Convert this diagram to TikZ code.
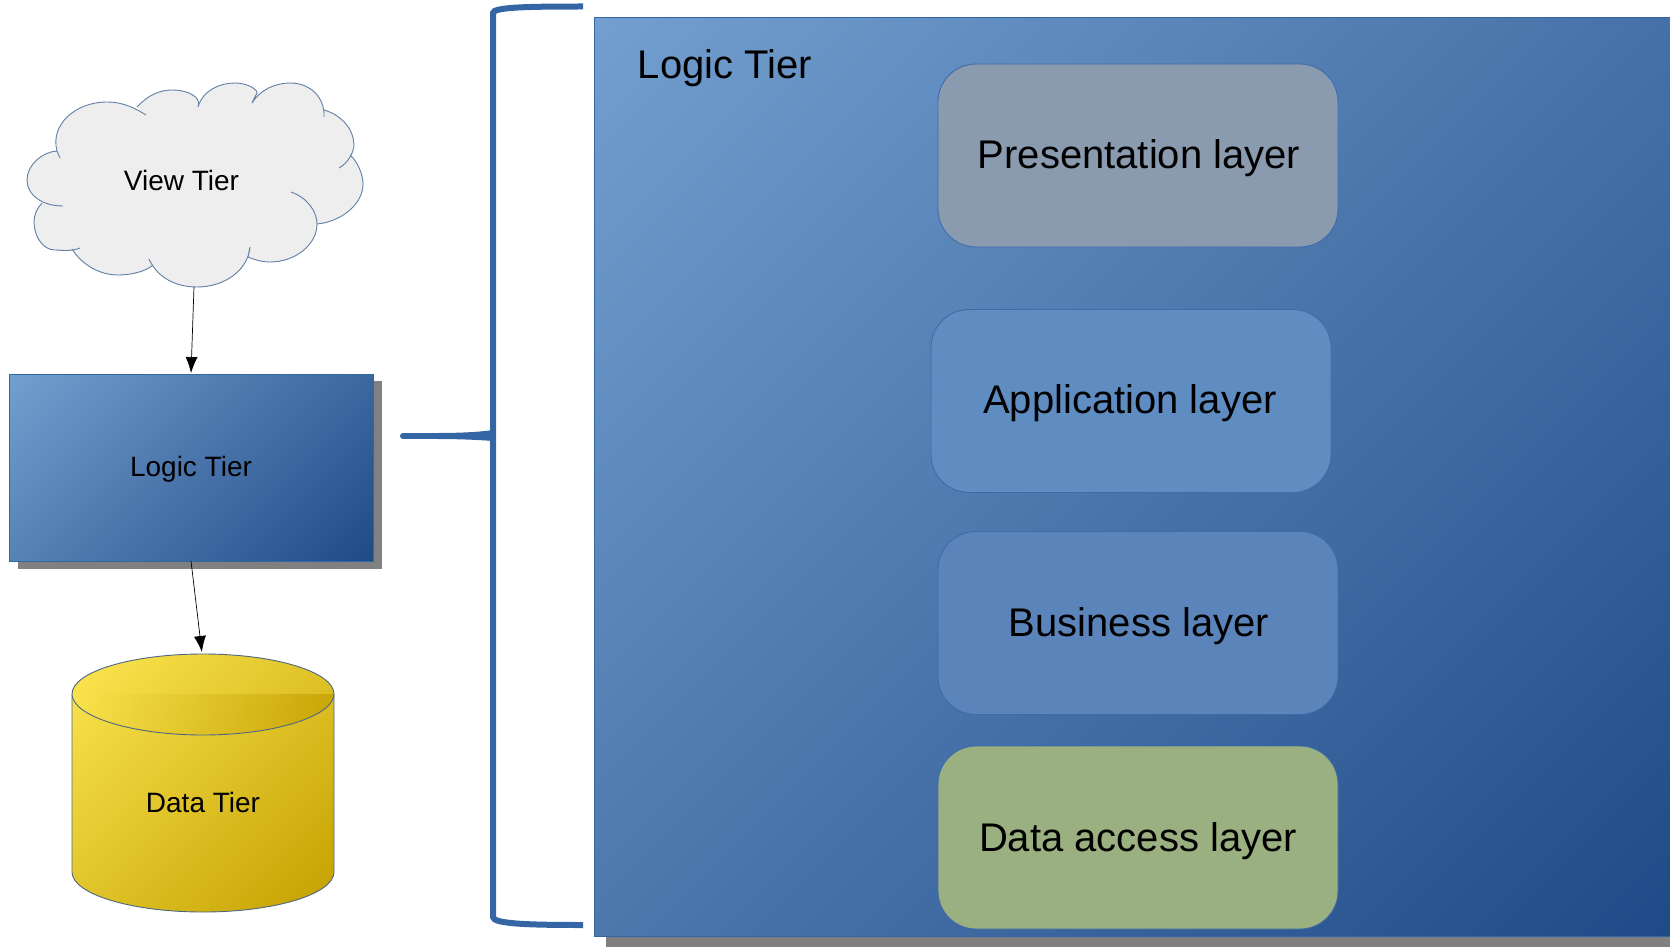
\documentclass[tikz,border=0pt]{standalone}
\usepackage{fontspec}
\setmainfont{Liberation Sans}
\usetikzlibrary{arrows.meta}
\definecolor{gradA}{HTML}{729FCF}
\definecolor{gradB}{HTML}{204A87}
\definecolor{braceblue}{HTML}{3465A4}
\definecolor{shadowgrey}{HTML}{808080}
\definecolor{cloudfill}{HTML}{EEEEEE}
\definecolor{cloudline}{HTML}{5F7FA5}
\definecolor{cylA}{HTML}{FCE651}
\definecolor{cylB}{HTML}{C4A000}
\definecolor{layerline}{HTML}{3F6CA8}
\definecolor{layerGrey}{HTML}{8A9BB0}
\definecolor{layerApp}{HTML}{5F8DC2}
\definecolor{layerBiz}{HTML}{5A84BA}
\definecolor{layerData}{HTML}{9BB080}
\pgfdeclareverticalshading{bluediag}{100bp}{color(0bp)=(gradB); color(14.6bp)=(gradB); color(85.4bp)=(gradA); color(100bp)=(gradA)}
\pgfdeclareverticalshading{cyldiag}{100bp}{color(0bp)=(cylB); color(14.6bp)=(cylB); color(85.4bp)=(cylA); color(100bp)=(cylA)}
\tikzset{
  bluegrad/.style={shading=bluediag,shading angle=45},
  smalltext/.style={font=\fontsize{28}{32}\selectfont,text=black},
  bigtext/.style={font=\fontsize{40}{46}\selectfont,text=black},
  layerbox/.style={rectangle,draw=layerline,line width=0.9pt,rounded corners=38pt,
    minimum width=400pt,minimum height=183pt,inner sep=0pt,outer sep=0pt},
  tierbox/.style={rectangle,draw=braceblue,line width=0.8pt,inner sep=0pt,outer sep=0pt},
  conn/.style={draw=black,line width=0.7pt,-{Latex[length=16pt,width=12pt]},shorten >=1pt},
  bracket/.style={draw=braceblue,line width=6pt},
  cloudlobe/.style={draw=cloudline,line width=0.9pt},
  cylline/.style={draw=black!20!cloudline,line width=0.9pt}
}
\def\lobeA{(63,206) .. controls (42,206) and (27,195) .. (27,180) .. controls (27,165) and (42,152) .. (57,151) -- (60,158)}
\def\lobeB{(57,151) .. controls (50,125) and (75,102) .. (107,102) .. controls (125,102) and (138,110) .. (146,115)}
\def\lobeC{(137,107) .. controls (148,95) and (160,90) .. (172,90) .. controls (188,90) and (202,97) .. (198,107)}
\def\lobeD{(198,107) .. controls (203,90) and (220,83) .. (235,83) .. controls (248,83) and (258,90) .. (257,93) -- (252,103)}
\def\lobeE{(252,103) .. controls (260,90) and (275,83) .. (290,83) .. controls (310,83) and (325,97) .. (324,117)}
\def\lobeF{(324,110) .. controls (342,115) and (354,130) .. (354,145) .. controls (354,152) and (348,163) .. (339,168)}
\def\lobeG{(350,155) .. controls (358,162) and (363,175) .. (363,184) .. controls (363,205) and (340,222) .. (317,224)}
\def\lobeH{(291,192) .. controls (308,198) and (317,212) .. (317,224) .. controls (317,245) and (295,262) .. (270,262) .. controls (262,262) and (255,260) .. (248,257) -- (250,247)}
\def\lobeI{(250,247) .. controls (248,270) and (225,287) .. (197,287) .. controls (175,287) and (157,277) .. (149,259)}
\def\lobeJ{(153,265) .. controls (145,272) and (130,275) .. (118,275) .. controls (100,275) and (82,265) .. (72,249)}
\def\lobeK{(80,248) .. controls (70,252) and (60,250) .. (55,250) .. controls (42,250) and (34,235) .. (34,222) .. controls (34,215) and (37,208) .. (42,203)}
\begin{document}
\begin{tikzpicture}[x=1pt,y=-1pt]
\useasboundingbox (0,0) rectangle (1670,947);
% large panel
\fill[shadowgrey] (606,30) rectangle (1670,947);
\node[tierbox,bluegrad,minimum width=1076pt,minimum height=919pt,anchor=north west] (panel) at (594,17.5) {};
\node[bigtext] (paneltitle) at (725,68) {Logic Tier};
\node[layerbox,fill=layerGrey] (pres) at (1138,155.5) {};
\node[layerbox,fill=layerApp] (app) at (1131,401) {};
\node[layerbox,fill=layerBiz] (biz) at (1138,623) {};
\node[layerbox,fill=layerData] (dal) at (1138,837.5) {};
\node[bigtext] (preslabel) at (1139,158.5) {Presentation layer};
\node[bigtext] (applabel) at (1130,403.5) {Application layer};
\node[bigtext] (bizlabel) at (1139,626) {Business layer};
\node[bigtext] (dallabel) at (1138,841) {Data access layer};
% bracket
\coordinate (brTop) at (583,6.5);
\coordinate (brBot) at (583,925);
\coordinate (brTick) at (403,436);
\coordinate (brMid) at (493,436);
\draw[bracket] (brTop) .. controls (530,6.5) and (493,7) .. (493,13) -- (493,917) .. controls (493,924) and (530,925) .. (brBot);
\draw[bracket,line cap=round] (brTick) -- (440,436);
\fill[braceblue] (438,433) .. controls (460,433) and (480,432) .. (493,430) -- (493,441) .. controls (480,440) and (460,439) .. (438,439) -- cycle;
% cloud
\fill[cloudfill] \lobeA -- \lobeB -- \lobeC -- \lobeD -- \lobeE -- \lobeF -- \lobeG -- \lobeH -- \lobeI -- \lobeJ -- \lobeK -- cycle;
\draw[cloudlobe] \lobeA \lobeB \lobeC \lobeD \lobeE \lobeF \lobeG \lobeH \lobeI \lobeJ \lobeK;
\node[smalltext] (view) at (181.5,180) {View Tier};
\coordinate (viewBottom) at (194,287);
% logic tier
\fill[shadowgrey] (18,381) rectangle (382,569);
\node[tierbox,bluegrad,minimum width=364pt,minimum height=187pt] (logic) at (191,467.5) {};
\node[smalltext] (logiclabel) at (191,469.5) {Logic Tier};
% data tier
\path[cylline,shading=cyldiag,shading angle=45]
  (72,694) -- (72,872) .. controls (72,894) and (131,912) .. (203,912)
  .. controls (275,912) and (334,894) .. (334,872) -- (334,694)
  .. controls (334,672) and (275,654) .. (203,654)
  .. controls (131,654) and (72,672) .. (72,694) -- cycle;
\path[shading=cyldiag,shading angle=70]
  (72,694) .. controls (72,716) and (131,735) .. (203,735)
  .. controls (275,735) and (334,716) .. (334,694) -- cycle;
\draw[cylline] (72,694) .. controls (72,716) and (131,735) .. (203,735)
  .. controls (275,735) and (334,716) .. (334,694);
\node[smalltext] (data) at (203,802) {Data Tier};
\coordinate (dataTop) at (202,653);
% connectors
\draw[conn] (viewBottom) -- (logic.north);
\draw[conn] (logic.south) -- (dataTop);
\end{tikzpicture}
\end{document}
